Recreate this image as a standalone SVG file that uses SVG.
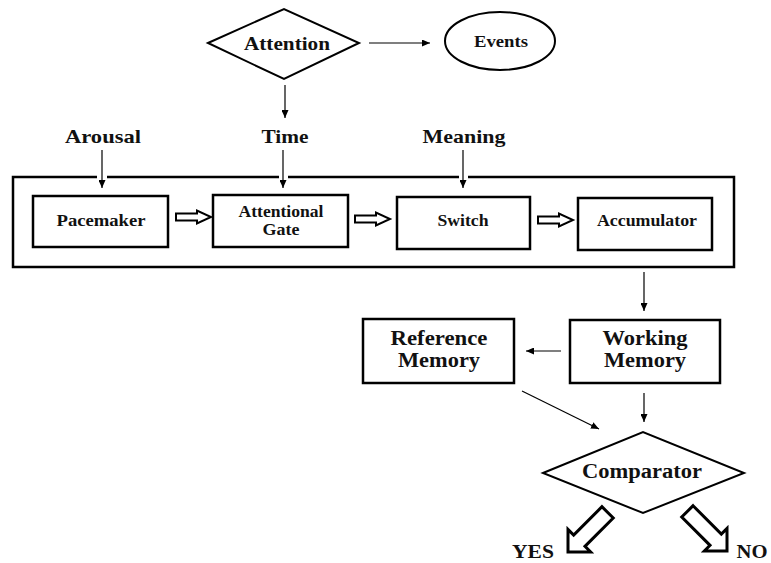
<svg xmlns="http://www.w3.org/2000/svg" width="771" height="563" viewBox="0 0 771 563">
<style>
.t{font-family:'Liberation Serif','Times New Roman',Times,serif;font-weight:700;fill:#111;text-anchor:middle}
.box{fill:#fff;stroke:#000;stroke-width:2.5}
.sh{fill:#fff;stroke:#000;stroke-width:2}
.ln{fill:none;stroke:#000;stroke-width:1.2}
.big{font-size:20px}
.sm{font-size:16px}
.hol{fill:#fff;stroke:#000;stroke-width:2;stroke-linejoin:miter}
.blk{fill:#fff;stroke:#000;stroke-width:3;stroke-linejoin:miter}
</style>
<defs>
<marker id="ah" markerUnits="userSpaceOnUse" markerWidth="9" markerHeight="7" refX="8" refY="3.5" orient="auto">
<path d="M0,0 L8,3.5 L0,7 z" fill="#000"/>
</marker>
<polygon id="hollow" points="0,-3.5 21,-3.5 21,-6.5 35,0 21,6.5 21,3.5 0,3.5"/>
<polygon id="block" points="-56,-8 -16,-8 -16,-16 0,0 -16,16 -16,8 -56,8"/>
</defs>

<g id="outer">
<path d="M97,177 H13 V267 H734 V177 H468 M459,177 H288 M279,177 H107" fill="none" stroke="#000" stroke-width="2.5"/>
</g>

<g font-family="Liberation Serif, serif" font-weight="bold">
<g id="attention">
<polygon class="sh" points="208,43 284,9 359,43 284,79"/>
<text class="t" x="287" y="50" font-size="19" textLength="86" lengthAdjust="spacingAndGlyphs">Attention</text>
</g>
<g id="events">
<ellipse class="sh" cx="500" cy="41" rx="55" ry="29"/>
<text class="t" x="501" y="47" font-size="16.5" textLength="54" lengthAdjust="spacingAndGlyphs">Events</text>
</g>
<g id="arousal"><text class="t" x="103" y="143" font-size="19.5" textLength="76" lengthAdjust="spacingAndGlyphs">Arousal</text></g>
<g id="time"><text class="t" x="285" y="143" font-size="19.5" textLength="47" lengthAdjust="spacingAndGlyphs">Time</text></g>
<g id="meaning"><text class="t" x="464" y="143" font-size="19.5" textLength="83" lengthAdjust="spacingAndGlyphs">Meaning</text></g>

<g id="pacemaker">
<rect class="box" x="33" y="196" width="135" height="51"/>
<text class="t sm" x="101" y="226" textLength="89" lengthAdjust="spacingAndGlyphs">Pacemaker</text>
</g>
<g id="gate">
<rect class="box" x="213" y="195" width="135" height="52"/>
<text class="t sm" x="281" y="217" textLength="85" lengthAdjust="spacingAndGlyphs">Attentional</text>
<text class="t sm" x="281" y="235" textLength="37" lengthAdjust="spacingAndGlyphs">Gate</text>
</g>
<g id="switch">
<rect class="box" x="397" y="197" width="133" height="52"/>
<text class="t sm" x="463" y="226" textLength="51" lengthAdjust="spacingAndGlyphs">Switch</text>
</g>
<g id="accumulator">
<rect class="box" x="578" y="198" width="134" height="52"/>
<text class="t sm" x="647" y="226" textLength="100" lengthAdjust="spacingAndGlyphs">Accumulator</text>
</g>

<g id="reference">
<rect class="box" x="363" y="319" width="151" height="64"/>
<text class="t big" x="439" y="345" textLength="97" lengthAdjust="spacingAndGlyphs">Reference</text>
<text class="t big" x="439" y="367" textLength="82" lengthAdjust="spacingAndGlyphs">Memory</text>
</g>
<g id="working">
<rect class="box" x="570" y="320" width="150" height="63"/>
<text class="t big" x="645" y="345" textLength="85" lengthAdjust="spacingAndGlyphs">Working</text>
<text class="t big" x="645" y="367" textLength="82" lengthAdjust="spacingAndGlyphs">Memory</text>
</g>
<g id="comparator">
<polygon class="sh" points="543,473 643,432 744,473 643,513"/>
<text class="t big" x="642" y="478" textLength="120" lengthAdjust="spacingAndGlyphs">Comparator</text>
</g>
<g id="yes"><text class="t" x="533" y="558" font-size="19" textLength="42" lengthAdjust="spacingAndGlyphs">YES</text></g>
<g id="no"><text class="t" x="752" y="558" font-size="19" textLength="31" lengthAdjust="spacingAndGlyphs">NO</text></g>
</g>

<g id="connectors">
<line class="ln" x1="369" y1="43" x2="430" y2="43" marker-end="url(#ah)"/>
<line class="ln" x1="285" y1="85" x2="285" y2="118" marker-end="url(#ah)"/>
<line class="ln" x1="102" y1="150" x2="102" y2="188" marker-end="url(#ah)"/>
<line class="ln" x1="283" y1="150" x2="283" y2="188" marker-end="url(#ah)"/>
<line class="ln" x1="463" y1="150" x2="463" y2="188" marker-end="url(#ah)"/>
<line class="ln" x1="644" y1="272" x2="644" y2="311" marker-end="url(#ah)"/>
<line class="ln" x1="561" y1="351" x2="526" y2="351" marker-end="url(#ah)"/>
<line class="ln" x1="644" y1="393" x2="644" y2="422" marker-end="url(#ah)"/>
<line class="ln" x1="522" y1="391" x2="599" y2="429" marker-end="url(#ah)"/>
<use href="#hollow" class="hol" x="176" y="217"/>
<use href="#hollow" class="hol" x="355" y="219"/>
<use href="#hollow" class="hol" x="538" y="220"/>
<use href="#block" class="blk" transform="translate(568,552) rotate(135)"/>
<use href="#block" class="blk" transform="translate(727,551) rotate(45)"/>
</g>
</svg>
